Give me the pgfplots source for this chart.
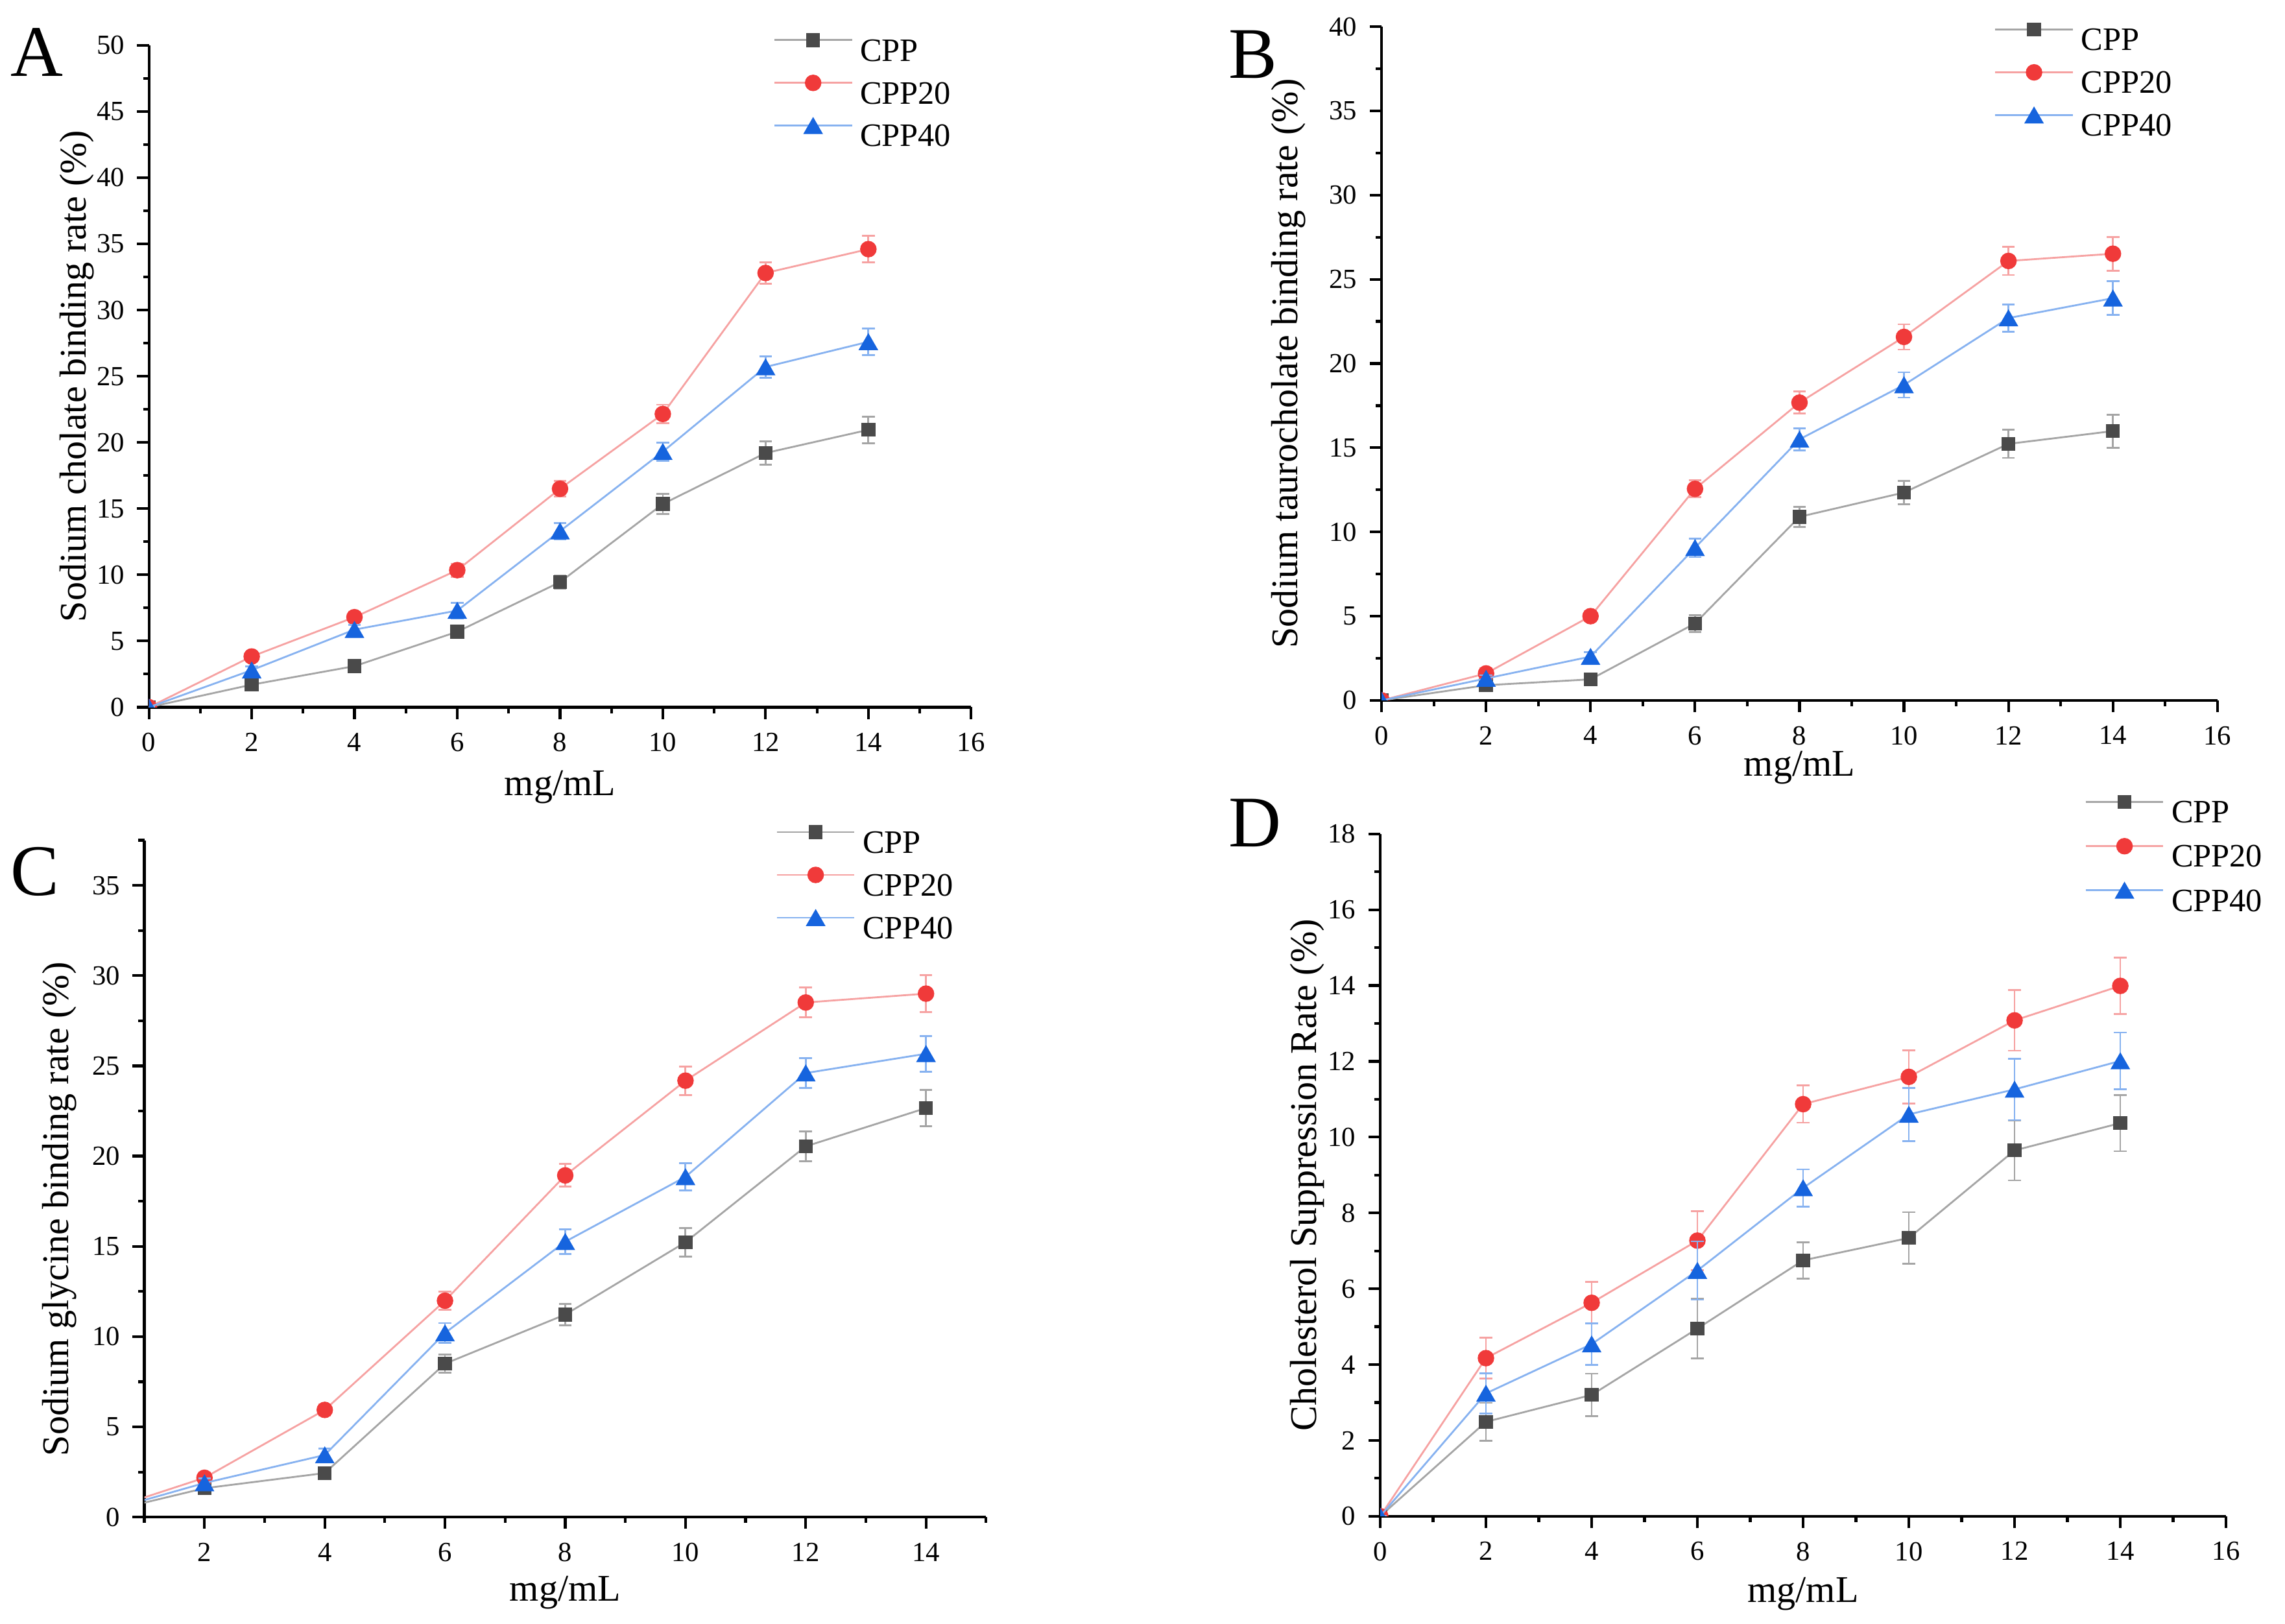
\documentclass[border=0pt]{standalone}
\usepackage{fontspec}
\setmainfont{Liberation Serif}
\usepackage{pgfplots}
\pgfplotsset{compat=1.18}
\usepackage{pgfplotstable}

\definecolor{cppm}{RGB}{74,74,74}
\definecolor{cppl}{RGB}{165,165,165}
\definecolor{c20m}{RGB}{240,58,58}
\definecolor{c20l}{RGB}{246,162,162}
\definecolor{c40m}{RGB}{22,100,222}
\definecolor{c40l}{RGB}{135,178,240}

% x  y  err
\pgfplotstableread{
x y e
0 0 0
2 1.70 0.25
4 3.10 0.30
6 5.70 0.35
8 9.45 0.50
10 15.35 0.75
12 19.20 0.90
14 20.95 1.00
}\tAa
\pgfplotstableread{
x y e
0 0 0
2 3.83 0.30
4 6.80 0.40
6 10.35 0.50
8 16.50 0.60
10 22.15 0.70
12 32.80 0.80
14 34.60 1.00
}\tAb
\pgfplotstableread{
x y e
0 0 0
2 2.80 0.30
4 5.86 0.35
6 7.30 0.60
8 13.30 0.60
10 19.30 0.70
12 25.70 0.80
14 27.60 1.00
}\tAc

\pgfplotstableread{
x y e
0 0 0
2 0.90 0.20
4 1.25 0.20
6 4.57 0.50
8 10.90 0.60
10 12.34 0.70
12 15.23 0.83
14 15.99 0.98
}\tBa
\pgfplotstableread{
x y e
0 0 0
2 1.60 0.30
4 5.00 0.30
6 12.56 0.50
8 17.68 0.65
10 21.58 0.75
12 26.09 0.83
14 26.52 1.00
}\tBb
\pgfplotstableread{
x y e
0 0 0
2 1.30 0.20
4 2.60 0.25
6 9.06 0.55
8 15.50 0.65
10 18.73 0.75
12 22.70 0.80
14 23.88 1.00
}\tBc

\pgfplotstableread{
x y e
0 0 0
2 1.60 0.20
4 2.44 0.30
6 8.50 0.50
8 11.22 0.60
10 15.23 0.79
12 20.54 0.82
14 22.66 1.00
}\tCa
\pgfplotstableread{
x y e
0 0 0
2 2.18 0.30
4 5.94 0.30
6 11.99 0.50
8 18.93 0.63
10 24.18 0.79
12 28.51 0.83
14 29.00 1.03
}\tCb
\pgfplotstableread{
x y e
0 0 0
2 1.89 0.25
4 3.44 0.35
6 10.20 0.55
8 15.26 0.67
10 18.85 0.75
12 24.60 0.83
14 25.67 0.99
}\tCc

\pgfplotstableread{
x y e
0 0 0
2 2.49 0.50
4 3.20 0.56
6 4.95 0.79
8 6.75 0.48
10 7.34 0.68
12 9.65 0.79
14 10.37 0.74
}\tDa
\pgfplotstableread{
x y e
0 0 0
2 4.17 0.54
4 5.63 0.55
6 7.27 0.78
8 10.87 0.49
10 11.59 0.70
12 13.08 0.80
14 13.99 0.74
}\tDb
\pgfplotstableread{
x y e
0 0 0
2 3.24 0.53
4 4.54 0.55
6 6.48 0.77
8 8.66 0.49
10 10.60 0.70
12 11.26 0.81
14 12.01 0.75
}\tDc

\pgfplotsset{
  panel/.style={
    scale only axis,
    anchor=south west,
    axis lines=left,
    axis line style={-, line width=0.6pt, black},
    tick align=outside,
    major tick length=2.6pt,
    minor tick length=1.3pt,
    every tick/.style={black, line width=0.6pt},
    tick label style={font=\fontsize{6.1}{7}\selectfont, inner sep=0pt},
    /pgf/number format/assume math mode=true,
    xticklabel shift=2.9pt,
    yticklabel shift=2.6pt,
    every axis x label/.style={anchor=base, inner sep=0pt, font=\fontsize{8.3}{9}\selectfont},
    every axis y label/.style={rotate=90, anchor=base, inner sep=0pt, font=\fontsize{8.3}{9}\selectfont},
    xlabel={mg/mL},
    clip marker paths=true,
    legend cell align=left,
    legend style={draw=none, fill=none, inner sep=0pt, outer sep=0pt,
      anchor=north west, column sep=1.6pt, row sep=3.1pt,
      font=\fontsize{7.2}{8}\selectfont,
      nodes={inner sep=0pt, text height=4.6pt, text depth=0pt}},
    legend image code/.code={\draw[mark repeat=2,mark phase=2,##1] plot coordinates {(0pt,2.3pt) (8.55pt,2.3pt) (17.1pt,2.3pt)};},
  },
  sA/.style={color=cppl, line width=0.4pt, mark=square*, mark size=1.43pt,
    mark options={draw=cppm, fill=cppm, line width=0.2pt},
    error bars/y dir=both, error bars/y explicit,
    error bars/error bar style={cppl, line width=0.4pt},
    error bars/error mark options={cppl, line width=0.4pt, mark size=1.4pt, rotate=90}},
  sB/.style={color=c20l, line width=0.4pt, mark=*, mark size=1.72pt,
    mark options={draw=c20m, fill=c20m, line width=0.2pt},
    error bars/y dir=both, error bars/y explicit,
    error bars/error bar style={c20l, line width=0.4pt},
    error bars/error mark options={c20l, line width=0.4pt, mark size=1.4pt, rotate=90}},
  sC/.style={color=c40l, line width=0.4pt, mark=triangle*, mark size=2.3pt,
    mark options={draw=c40m, fill=c40m, line width=0.2pt, yshift=-0.575pt},
    error bars/y dir=both, error bars/y explicit,
    error bars/error bar style={c40l, line width=0.4pt},
    error bars/error mark options={c40l, line width=0.4pt, mark size=1.4pt, rotate=90}},
}

\begin{document}
\begin{tikzpicture}
\path[use as bounding box] (0,0) rectangle (503.286pt,357.571pt);

% ---------- A ----------
\begin{axis}[panel,
  at={(32.8pt,201.8pt)}, width=181.1pt, height=145.8pt,
  xmin=0, xmax=16, ymin=0, ymax=50,
  xtick={0,2,...,16}, minor xtick={1,3,...,15},
  ytick={0,5,...,50}, minor ytick={2.5,7.5,...,47.5},
  ylabel={Sodium cholate binding rate (\%)},
  xlabel style={at={(axis description cs:0.5,-0.1336)}},
  ylabel style={at={(axis description cs:-0.0762,0.5)}},
  legend style={at={(axis description cs:0.7595,1.0176)}},
]
\addplot[sA] table[x=x, y=y, y error=e] {\tAa};
\addplot[sB] table[x=x, y=y, y error=e] {\tAb};
\addplot[sC] table[x=x, y=y, y error=e] {\tAc};
\legend{CPP, CPP20, CPP40}
\end{axis}

% ---------- B ----------
\begin{axis}[panel,
  at={(304.3pt,203.3pt)}, width=184.1pt, height=148.4pt,
  xmin=0, xmax=16, ymin=0, ymax=40,
  xtick={0,2,...,16}, minor xtick={1,3,...,15},
  ytick={0,5,...,40}, minor ytick={2.5,7.5,...,37.5},
  ylabel={Sodium taurocholate binding rate (\%)},
  xlabel style={at={(axis description cs:0.5,-0.1125)}},
  ylabel style={at={(axis description cs:-0.1009,0.5)}},
  legend style={at={(axis description cs:0.7331,1.0053)}},
]
\addplot[sA] table[x=x, y=y, y error=e] {\tBa};
\addplot[sB] table[x=x, y=y, y error=e] {\tBb};
\addplot[sC] table[x=x, y=y, y error=e] {\tBc};
\legend{CPP, CPP20, CPP40}
\end{axis}

% ---------- C ----------
\begin{axis}[panel,
  at={(31.8pt,23.4pt)}, width=185.4pt, height=149.1pt,
  xmin=1, xmax=15, ymin=0, ymax=37.5,
  xtick={2,4,...,14}, minor xtick={1,3,...,15},
  ytick={0,5,...,35}, minor ytick={2.5,7.5,...,37.5},
  ylabel={Sodium glycine binding rate (\%)},
  xlabel style={at={(axis description cs:0.5,-0.1241)}},
  ylabel style={at={(axis description cs:-0.0906,0.455)}},
  legend style={at={(axis description cs:0.7503,1.0215)}},
]
\addplot[sA] table[x=x, y=y, y error=e] {\tCa};
\addplot[sB] table[x=x, y=y, y error=e] {\tCb};
\addplot[sC] table[x=x, y=y, y error=e] {\tCc};
\legend{CPP, CPP20, CPP40}
\end{axis}

% ---------- D ----------
\begin{axis}[panel,
  at={(304.0pt,23.6pt)}, width=186.3pt, height=150.3pt,
  xmin=0, xmax=16, ymin=0, ymax=18,
  xtick={0,2,...,16}, minor xtick={1,3,...,15},
  ytick={0,2,...,18}, minor ytick={1,3,...,17},
  ylabel={Cholesterol Suppression Rate (\%)},
  xlabel style={at={(axis description cs:0.5,-0.1264)}},
  ylabel style={at={(axis description cs:-0.0757,0.5)}},
  legend style={at={(axis description cs:0.833,1.0561)}, row sep=3.4pt},
]
\addplot[sA] table[x=x, y=y, y error=e] {\tDa};
\addplot[sB] table[x=x, y=y, y error=e] {\tDb};
\addplot[sC] table[x=x, y=y, y error=e] {\tDc};
\legend{CPP, CPP20, CPP40}
\end{axis}

% panel letters
\node[font=\fontsize{16}{18}\selectfont, inner sep=0pt] at (8.14pt,346.1pt) {A};
\node[font=\fontsize{16}{18}\selectfont, inner sep=0pt] at (276.0pt,345.6pt) {B};
\node[font=\fontsize{16}{18}\selectfont, inner sep=0pt] at (7.7pt,165.6pt) {C};
\node[font=\fontsize{16}{18}\selectfont, inner sep=0pt] at (276.4pt,176.3pt) {D};
\end{tikzpicture}
\end{document}
